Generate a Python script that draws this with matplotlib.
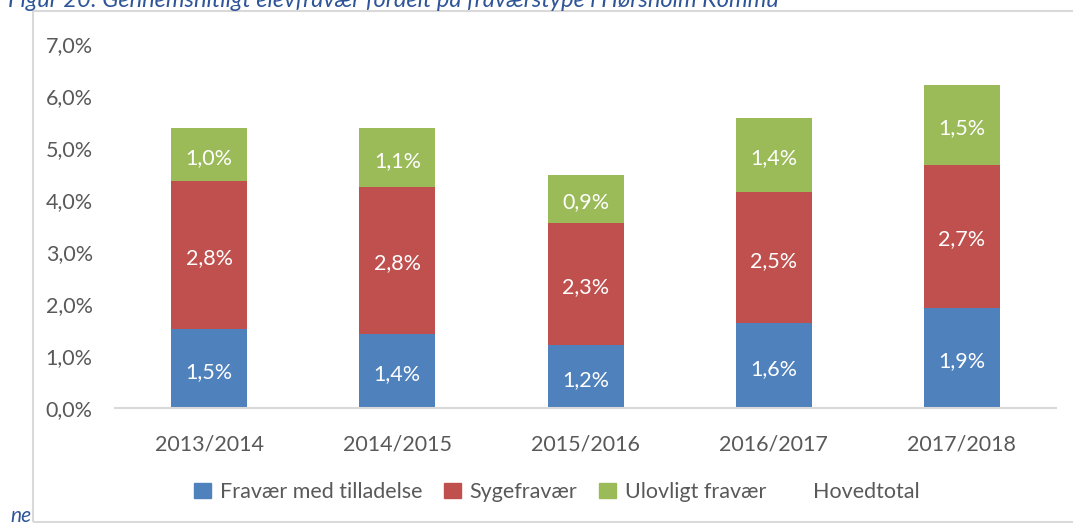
import matplotlib
matplotlib.use("Agg")
import matplotlib.pyplot as plt
from matplotlib.patches import Patch, Rectangle
import numpy as np

categories = ["2013/2014", "2014/2015", "2015/2016", "2016/2017", "2017/2018"]
med_tilladelse = [1.52, 1.43, 1.21, 1.63, 1.93]
sygefravaer = [2.85, 2.82, 2.35, 2.52, 2.74]
ulovligt = [1.01, 1.13, 0.92, 1.43, 1.54]
label_med = ["1,5%", "1,4%", "1,2%", "1,6%", "1,9%"]
label_syg = ["2,8%", "2,8%", "2,3%", "2,5%", "2,7%"]
label_ulo = ["1,0%", "1,1%", "0,9%", "1,4%", "1,5%"]
yticks = [0, 1, 2, 3, 4, 5, 6, 7]
ytick_labels = ["0,0%", "1,0%", "2,0%", "3,0%", "4,0%", "5,0%", "6,0%", "7,0%"]
series_names = ["Fravær med tilladelse", "Sygefravær", "Ulovligt fravær", "Hovedtotal"]

FONT = "Lato"
GRAY = "#595959"
C_BLUE, C_RED, C_GREEN = "#4F81BD", "#C0504D", "#9BBB59"
TITLE_C = "#2E5597"

W, H = 1073, 523
fig = plt.figure(figsize=(W / 100, H / 100), dpi=100)
fig.patch.set_facecolor("white")

# chart border
fig.patches.append(Rectangle((33 / W, 1.5 / H), 1.2, (H - 11 - 1.5) / H, transform=fig.transFigure,
                             fill=False, edgecolor="#d9d9d9", linewidth=1.5, zorder=0))

ax = fig.add_axes([115 / W, (H - 408) / H, (1056 - 115) / W, (408 - 44) / H])
x = np.arange(len(categories))
bw = 76 / 188.2
b1 = ax.bar(x, med_tilladelse, bw, color=C_BLUE, zorder=2)
b2 = ax.bar(x, sygefravaer, bw, bottom=med_tilladelse, color=C_RED, zorder=2)
bot3 = np.array(med_tilladelse) + np.array(sygefravaer)
b3 = ax.bar(x, ulovligt, bw, bottom=bot3, color=C_GREEN, zorder=2)

for bars, labels in ((b1, label_med), (b2, label_syg), (b3, label_ulo)):
    for r, lab in zip(bars, labels):
        ax.text(r.get_x() + r.get_width() / 2, r.get_y() + r.get_height() / 2 - 0.06, lab,
                ha="center", va="center", color="white", fontsize=15.5, family=FONT)

ax.set_xlim(-0.5, len(categories) - 0.5)
ax.set_ylim(0, 7)
ax.set_yticks(yticks)
ax.set_yticklabels(ytick_labels)
ax.set_xticks(x)
ax.set_xticklabels(categories)
for s in ("top", "right", "left"):
    ax.spines[s].set_visible(False)
ax.spines["bottom"].set_color("#d9d9d9")
ax.spines["bottom"].set_linewidth(1.5)
ax.tick_params(axis="both", length=0, labelsize=15.5, labelcolor=GRAY)
ax.tick_params(axis="y", pad=16)
ax.tick_params(axis="x", pad=19)
for t in ax.get_xticklabels() + ax.get_yticklabels():
    t.set_family(FONT)

handles = [Patch(color=C_BLUE), Patch(color=C_RED), Patch(color=C_GREEN), Patch(color="none")]
leg = fig.legend(handles, series_names, loc="center", bbox_to_anchor=(557 / W, (H - 492) / H),
                 ncol=4, frameon=False, handlelength=0.8, handleheight=0.65, handletextpad=0.4,
                 columnspacing=1.0, prop={"family": FONT, "size": 15.5})
for t in leg.get_texts():
    t.set_color(GRAY)

fig.text(8 / W, 1 - 7 / H, "Figur 20: Gennemsnitligt elevfravær fordelt på fraværstype i Hørsholm Kommu",
         ha="left", va="baseline", fontsize=17, style="italic", color=TITLE_C, family=FONT)
fig.text(10 / W, 0.5 / H, "ne", ha="left", va="baseline", fontsize=15, style="italic",
         color=TITLE_C, family=FONT)

fig.savefig("out.png", dpi=100, facecolor="white")
